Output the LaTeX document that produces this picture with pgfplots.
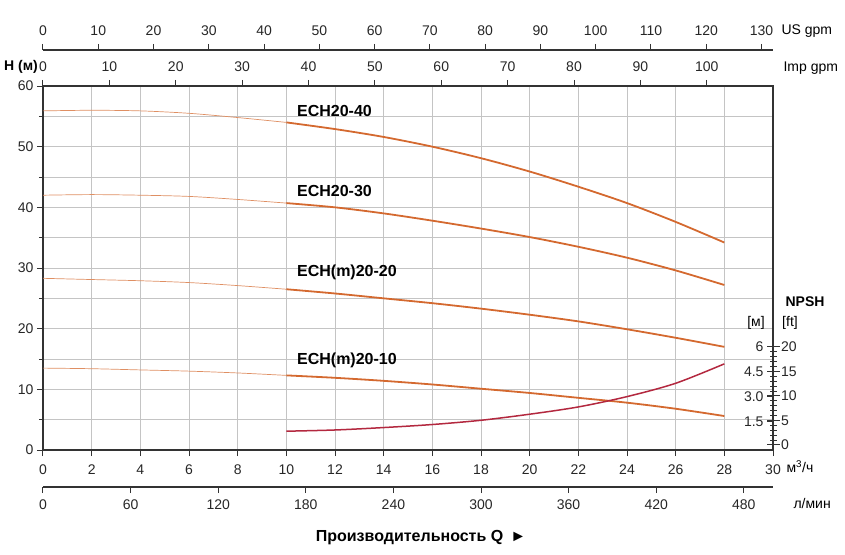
\documentclass[border=0pt]{standalone}
\usepackage{fontspec}
\setmainfont{Liberation Sans}
\usepackage{pgfplots}
\pgfplotsset{compat=1.18}

\definecolor{pumpor}{HTML}{D4692F}
\definecolor{npshred}{HTML}{B3283F}
\definecolor{gridgr}{HTML}{C4C4C4}
\definecolor{axdark}{HTML}{333333}

\pgfplotsset{
  chartbase/.style={
    scale only axis, width=730pt, at={(0,0)}, anchor=south west,
    /pgf/number format/assume math mode=true,
    tick label style={font=\fontsize{14}{16}\selectfont, text=black!85},
    axis line style={axdark, line width=1.2pt},
    major tick style={axdark, line width=1pt},
    minor tick style={axdark, line width=0.7pt},
    major tick length=6pt,
  },
  scaleaxis/.style={chartbase, height=10pt, axis y line=none, ymin=0, ymax=1,
    tick align=outside, clip=false},
  thinc/.style={pumpor!75, line width=0.7pt, smooth},
  thickc/.style={pumpor, line width=1.8pt, smooth},
}

\begin{document}
\begin{tikzpicture}
\useasboundingbox (-43pt,-104pt) rectangle (802pt,450pt);

% main H-Q axis
\begin{axis}[chartbase, height=364pt,
  xmin=0, xmax=30, ymin=0, ymax=60,
  xtick={0,2,...,30}, ytick={0,10,...,60}, minor ytick={5,15,...,55},
  tick pos=left, tick align=outside, minor tick length=4pt,
  xticklabel style={yshift=-5pt},
  xmajorgrids, ymajorgrids, yminorgrids,
  grid style={gridgr, line width=0.8pt},
  minor grid style={gridgr, line width=0.8pt},
  clip=false]

\addplot[thinc] coordinates {(0,55.9)(2,56.0)(4,55.9)(6,55.5)(8,54.8)(10,54.0)};
\addplot[thickc] coordinates {(10,54.0)(12,52.9)(14,51.6)(16,50.0)(18,48.1)(20,45.9)(22,43.4)(24,40.7)(26,37.6)(28,34.2)};

\addplot[thinc] coordinates {(0,42.0)(2,42.1)(4,42.0)(6,41.8)(8,41.3)(10,40.7)};
\addplot[thickc] coordinates {(10,40.7)(12,40.0)(14,39.0)(16,37.8)(18,36.5)(20,35.1)(22,33.5)(24,31.7)(26,29.6)(28,27.2)};

\addplot[thinc] coordinates {(0,28.3)(2,28.1)(4,27.9)(6,27.6)(8,27.1)(10,26.5)};
\addplot[thickc] coordinates {(10,26.5)(12,25.8)(14,25.0)(16,24.2)(18,23.3)(20,22.3)(22,21.2)(24,19.9)(26,18.5)(28,17.0)};

\addplot[thinc] coordinates {(0,13.5)(2,13.4)(4,13.2)(6,13.0)(8,12.7)(10,12.3)};
\addplot[thickc] coordinates {(10,12.3)(12,11.9)(14,11.4)(16,10.8)(18,10.1)(20,9.4)(22,8.6)(24,7.8)(26,6.8)(28,5.6)};

% NPSH
\addplot[npshred, line width=1.5pt, smooth] coordinates {(10,3.1)(12,3.3)(14,3.7)(16,4.2)(18,4.9)(20,5.9)(22,7.1)(24,8.8)(26,11.0)(28,14.2)};

\node[anchor=west, font=\fontsize{16}{18}\bfseries] at (axis cs:10.3,55.9) {ECH20-40};
\node[anchor=west, font=\fontsize{16}{18}\bfseries] at (axis cs:10.3,42.7) {ECH20-30};
\node[anchor=west, font=\fontsize{16}{18}\bfseries] at (axis cs:10.3,29.3) {ECH(m)20-20};
\node[anchor=west, font=\fontsize{16}{18}\bfseries] at (axis cs:10.3,14.8) {ECH(m)20-10};

\node[anchor=west, font=\fontsize{14}{16}\selectfont] at ([xshift=10pt,yshift=-17pt]rel axis cs:1,0) {м\textsuperscript{3}/ч};
\node[anchor=east, inner sep=1pt, font=\fontsize{14}{16}\bfseries] at (-4pt,383pt) {H (м)};
\node[font=\fontsize{14}{16}\bfseries] at (762pt,148pt) {NPSH};
\node[font=\fontsize{14}{16}\selectfont] at (713pt,127pt) {[м]};
\node[font=\fontsize{14}{16}\selectfont] at (747pt,127pt) {[ft]};
\node[font=\fontsize{16}{18}\bfseries] at (378pt,-88pt) {Производительность Q \,►};
\end{axis}

% NPSH in feet (right side)
\begin{axis}[chartbase, height=364pt, xmin=0, xmax=30, ymin=-1.02, ymax=73.05,
  axis x line=none, axis y line*=right,
  ytick={0,5,10,15,20},
  minor ytick={1,2,3,4,6,7,8,9,11,12,13,14,16,17,18,19},
  tick align=center, major tick length=13pt, minor tick length=7pt,
  yticklabel style={xshift=-2pt}]
\end{axis}

% NPSH in metres (left of the right edge)
\begin{axis}[chartbase, at={(730pt,0)}, width=1pt, height=364pt,
  xmin=0, xmax=1, ymin=-0.2, ymax=21.64,
  axis x line=none, axis y line*=left, axis line style={draw=none},
  ytick={1.5,3,4.5,6}, yticklabels={1.5,3.0,4.5,6},
  tick align=outside, major tick length=6pt]
\end{axis}

% US gpm
\begin{axis}[scaleaxis, at={(0,390pt)}, xmin=0, xmax=132.09,
  axis x line*=top, xtick={0,10,...,130}, xticklabel style={yshift=5pt}]
\node[anchor=west, font=\fontsize{14}{16}\selectfont] at ([xshift=5pt,yshift=19pt]rel axis cs:1,1) {US gpm};
\end{axis}

% Imp gpm
\begin{axis}[scaleaxis, at={(0,354pt)}, xmin=0, xmax=109.98,
  axis x line*=top, axis line style={draw=none}, xtick={0,10,...,100},
  xticklabel style={yshift=5pt}]
\node[anchor=west, font=\fontsize{14}{16}\selectfont] at ([xshift=7pt,yshift=18pt]rel axis cs:1,1) {Imp gpm};
\end{axis}

% l/min
\begin{axis}[scaleaxis, at={(0,-37pt)}, xmin=0, xmax=500,
  axis x line*=bottom, xtick={0,60,...,480}, xticklabel style={yshift=-3pt}]
\node[anchor=west, font=\fontsize{14}{16}\selectfont] at ([xshift=17pt,yshift=-16pt]rel axis cs:1,0) {л/мин};
\end{axis}
\end{tikzpicture}
\end{document}
